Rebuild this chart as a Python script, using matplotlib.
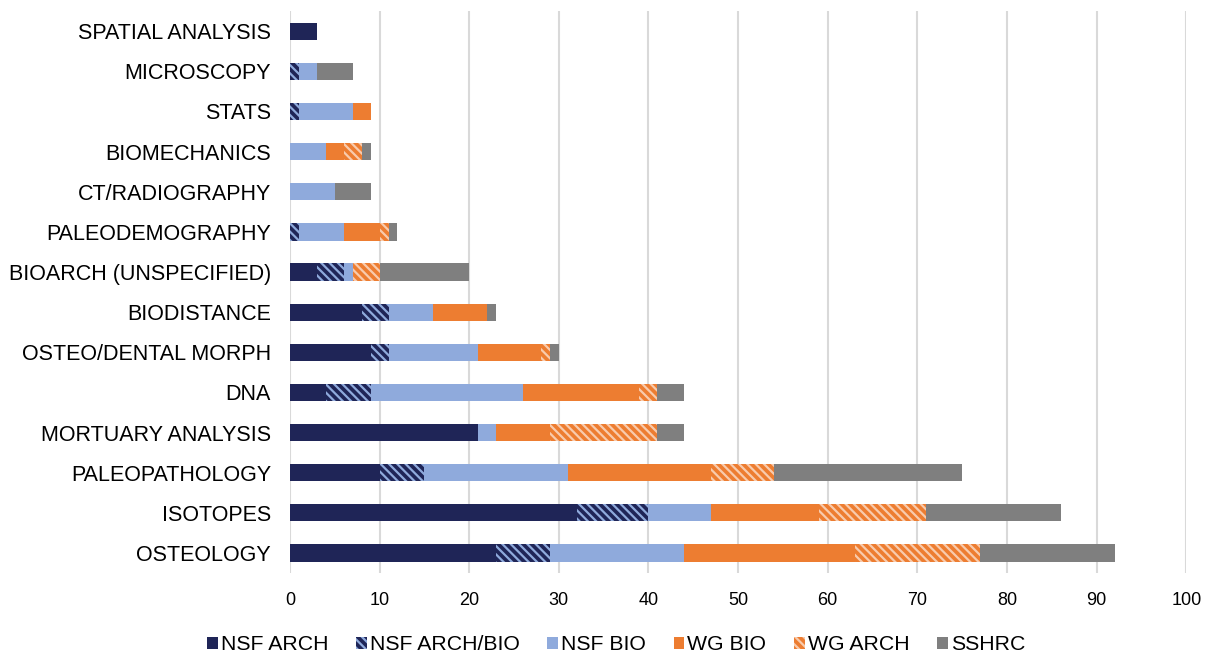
import numpy as np
import matplotlib.pyplot as plt

plt.rcParams['font.family'] = ['Liberation Sans', 'DejaVu Sans']
plt.rcParams['hatch.linewidth'] = 1.6

# categories from bottom to top
categories = ['OSTEOLOGY', 'ISOTOPES', 'PALEOPATHOLOGY', 'MORTUARY ANALYSIS', 'DNA',
              'OSTEO/DENTAL MORPH', 'BIODISTANCE', 'BIOARCH (UNSPECIFIED)',
              'PALEODEMOGRAPHY', 'CT/RADIOGRAPHY', 'BIOMECHANICS', 'STATS',
              'MICROSCOPY', 'SPATIAL ANALYSIS']

nsf_arch     = [23, 32, 10, 21, 4, 9, 8, 3, 0, 0, 0, 0, 0, 3]
nsf_arch_bio = [6, 8, 5, 0, 5, 2, 3, 3, 1, 0, 0, 1, 1, 0]
nsf_bio      = [15, 7, 16, 2, 17, 10, 5, 1, 5, 5, 4, 6, 2, 0]
wg_bio       = [19, 12, 16, 6, 13, 7, 6, 0, 4, 0, 2, 2, 0, 0]
wg_arch      = [14, 12, 7, 12, 2, 1, 0, 3, 1, 0, 2, 0, 0, 0]
sshrc        = [15, 15, 21, 3, 3, 1, 1, 10, 1, 4, 1, 0, 4, 0]

series = [
    ('NSF ARCH', nsf_arch, '#1F2557', None, None),
    ('NSF ARCH/BIO', nsf_arch_bio, '#1F2557', '#8FAADC', '\\' * 4),
    ('NSF BIO', nsf_bio, '#8FAADC', None, None),
    ('WG BIO', wg_bio, '#ED7D31', None, None),
    ('WG ARCH', wg_arch, '#ED7D31', '#F8CBAD', '\\' * 4),
    ('SSHRC', sshrc, '#7F7F7F', None, None),
]

fig = plt.figure(figsize=(12.08, 6.56), dpi=100)
ax = fig.add_axes([0.24, 0.1265, 0.742, 0.8565])

y = np.arange(len(categories))
left = np.zeros(len(categories))
for name, vals, color, hcolor, hatch in series:
    vals = np.array(vals, dtype=float)
    if hatch:
        ax.barh(y, vals, left=left, height=0.43, color=color, edgecolor=hcolor,
                hatch=hatch, linewidth=0, label=name, zorder=3)
    else:
        ax.barh(y, vals, left=left, height=0.43, color=color, linewidth=0,
                label=name, zorder=3)
    left += vals

ax.set_xlim(0, 100)
ax.set_ylim(-0.5, len(categories) - 0.5)
ax.set_xticks(np.arange(0, 101, 10))
ax.set_yticks(y)
ax.set_yticklabels(categories)
ax.tick_params(axis='both', length=0, colors='black')
ax.tick_params(axis='y', pad=13.7, labelsize=15.5)
ax.tick_params(axis='x', pad=13.5, labelsize=13)
ax.grid(axis='x', color='#D9D9D9', linewidth=1.5, zorder=0)
for s in ax.spines.values():
    s.set_visible(False)

fig.legend(loc='center', bbox_to_anchor=(0.51, 0.017), ncol=6, frameon=False,
           fontsize=15.3, handlelength=0.5, handleheight=0.5, handletextpad=0.15,
           columnspacing=1.3)

fig.savefig('out.png', dpi=100)
